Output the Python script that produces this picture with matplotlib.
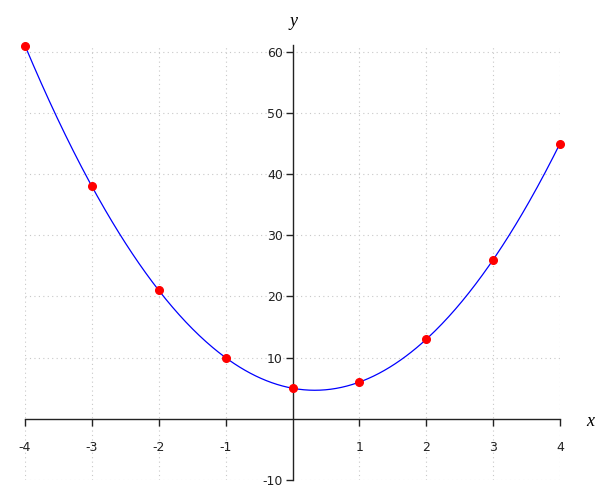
import numpy as np
import matplotlib
matplotlib.use("Agg")
import matplotlib.pyplot as plt

x_pts = [-4, -3, -2, -1, 0, 1, 2, 3, 4]
y_pts = [61, 38, 21, 10, 5, 6, 13, 26, 45]
x_ticks = [-4, -3, -2, -1, 1, 2, 3, 4]
y_ticks = [-10, 10, 20, 30, 40, 50, 60]

fig = plt.figure(figsize=(6, 5), dpi=100)
ax = fig.add_axes([25/600, 1-480/500, (560-25)/600, (480-45)/500])

coef = np.polyfit(x_pts, y_pts, 2)
xs = np.linspace(min(x_pts), max(x_pts), 400)
ax.plot(xs, np.polyval(coef, xs), color='blue', lw=0.9, zorder=3)
ax.plot(x_pts, y_pts, 'o', color='red', ms=5.5, zorder=4, clip_on=False)

ax.set_xlim(-4, 4)
ax.set_ylim(-10, 61.1)

ax.spines['left'].set_position(('data', 0))
ax.spines['bottom'].set_position(('data', 0))
ax.spines['top'].set_visible(False)
ax.spines['right'].set_visible(False)
for s in ('left', 'bottom'):
    ax.spines[s].set_color('#222222')
    ax.spines[s].set_linewidth(1.0)

ax.set_xticks(x_ticks)
ax.set_xticklabels([str(t) for t in x_ticks])
ax.set_yticks(y_ticks)
ax.set_yticklabels([str(t) for t in y_ticks])
ax.tick_params(axis='both', direction='out', length=5, width=1, color='#222222',
               labelsize=9, labelcolor='#222222', pad=11)
ax.tick_params(axis='y', pad=2)

for gx in x_ticks:
    ax.axvline(gx, color='#c8c8c8', lw=0.8, ls=(0, (1, 3)), zorder=0)
for gy in y_ticks:
    ax.axhline(gy, color='#c8c8c8', lw=0.8, ls=(0, (1, 3)), zorder=0)

ax.patch.set_visible(False)

fig.text(293/600, 1-22/500, 'y', fontsize=13, style='italic', family='Liberation Serif',
         ha='center', va='center')
fig.text(590/600, 1-421/500, 'x', fontsize=13, style='italic', family='Liberation Serif',
         ha='center', va='center')

fig.savefig('out.png', dpi=100)
